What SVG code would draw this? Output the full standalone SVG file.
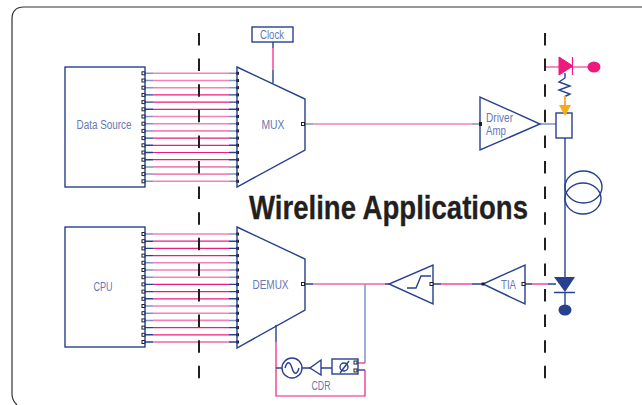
<svg xmlns="http://www.w3.org/2000/svg" width="642" height="405" viewBox="0 0 642 405">
<style>
.b{fill:none;stroke:#27408f;stroke-width:1.4}
.f{fill:#fff;stroke:#27408f;stroke-width:1.4}
.p{fill:none;stroke:#ee1b7e;stroke-width:1.2}
.lb{fill:none;stroke:#8093c4;stroke-width:1.5}
.lp{fill:none;stroke:#f582b5;stroke-width:1.6}
.t{font-family:"Liberation Sans",sans-serif;font-size:12px;fill:#6478b4;text-anchor:middle}
.d{fill:none;stroke:#231f20;stroke-width:2;stroke-dasharray:12.5 13.1}
</style>
<defs>
<g id="bd">
<path class="b" d="M143 0H153M229 0H238"/>
<path class="p" d="M153 0H229"/>
<rect x="142" y="-1.500" width="3" height="3" fill="#fff" stroke="#231f20" stroke-width="1"/>
<rect x="236" y="-1.500" width="3" height="3" fill="#231f20"/>
</g>
<g id="bl">
<path class="lb" d="M143 0H153M229 0H238"/>
<path class="lp" d="M153 0H229"/>
<rect x="142" y="-1.500" width="3" height="3" fill="#fff" stroke="#231f20" stroke-width="1"/>
<rect x="236" y="-1.500" width="3" height="3" fill="#231f20"/>
</g>
</defs>
<path id="frame" d="M642 7H24Q12 7 12 19V394Q12 400 17 405" fill="none" stroke="#333" stroke-width="1.200"/>
<g id="connectors">
<use href="#bl" y="73.300"/><use href="#bl" y="80.500"/><use href="#bl" y="87.700"/><use href="#bd" y="94.900"/><use href="#bd" y="102.100"/><use href="#bd" y="109.300"/><use href="#bl" y="116.500"/><use href="#bl" y="123.700"/><use href="#bl" y="130.900"/><use href="#bd" y="138.100"/><use href="#bd" y="145.300"/><use href="#bd" y="152.500"/><use href="#bd" y="159.700"/><use href="#bl" y="166.900"/><use href="#bl" y="174.100"/><use href="#bl" y="181.300"/>
<use href="#bl" y="234"/><use href="#bd" y="241.200"/><use href="#bd" y="248.400"/><use href="#bd" y="255.600"/><use href="#bl" y="262.800"/><use href="#bl" y="270"/><use href="#bl" y="277.200"/><use href="#bd" y="284.400"/><use href="#bd" y="291.600"/><use href="#bd" y="298.800"/><use href="#bl" y="306"/><use href="#bl" y="313.200"/><use href="#bl" y="320.400"/><use href="#bd" y="327.600"/><use href="#bd" y="334.800"/><use href="#bd" y="342"/>
<path class="d" d="M199 33V379"/>
<path class="d" d="M545 33V379"/>
<path class="b" d="M273 42V48M273 70V83"/><path class="p" d="M273 48V70" stroke-width="1.600"/>
<path class="lb" d="M303 124H313M472 124H480"/><path class="lp" d="M313 124H472"/>
<path class="lb" d="M540 124H556"/>
<path class="b" d="M565 138V277"/>
<path class="b" d="M303 284H313M385 284H389"/><path class="p" d="M313 284H385"/>
<path class="b" d="M433 284H441M472 284H483"/><path class="p" d="M441 284H472"/>
<path class="b" d="M525 284H532M548 284H556"/><path class="p" d="M532 284H548"/>
<path class="lb" d="M365 284V363"/>
<path class="p" d="M358 363H365" stroke-width="1.600"/>
<path class="b" d="M358 370H365"/>
<path class="p" d="M365 370V396H276V342" stroke-width="1.600"/>
<path class="b" d="M276 325V342"/>
<path class="b" d="M276 368H282M302 368H310M321 368H332"/>
</g>
<g id="data-source"><rect class="b" x="65" y="67" width="80" height="120"/><text class="t" x="104" y="129" textLength="55" lengthAdjust="spacingAndGlyphs">Data Source</text></g>
<g id="cpu"><rect class="b" x="65" y="227" width="80" height="120"/><text class="t" x="103" y="291" textLength="19" lengthAdjust="spacingAndGlyphs">CPU</text></g>
<g id="clock"><rect class="b" x="252" y="27" width="41" height="15"/><text class="t" x="272" y="39" textLength="24" lengthAdjust="spacingAndGlyphs">Clock</text></g>
<g id="mux"><path class="b" d="M237 67L305 99V150L237 187Z"/><rect x="301.500" y="122.500" width="3" height="3" fill="#fff" stroke="#231f20"/><text class="t" x="273" y="129" textLength="23" lengthAdjust="spacingAndGlyphs">MUX</text></g>
<g id="demux"><path class="b" d="M237 227L305 259V310L237 348Z"/><rect x="301.500" y="282.500" width="3" height="3" fill="#fff" stroke="#231f20"/><text class="t" x="270.500" y="289" textLength="36" lengthAdjust="spacingAndGlyphs">DEMUX</text></g>
<g id="driver-amp"><path class="f" d="M480 97V150L540 124Z"/><rect x="479" y="122" width="3" height="4" fill="#231f20"/><text class="t" x="486" y="122" style="text-anchor:start" textLength="27" lengthAdjust="spacingAndGlyphs">Driver</text><text class="t" x="486" y="135" style="text-anchor:start" textLength="20" lengthAdjust="spacingAndGlyphs">Amp</text></g>
<g id="modulator"><rect class="f" x="556" y="113" width="16" height="25"/></g>
<g id="laser">
<path class="p" d="M546 67H590" stroke-width="2"/>
<path d="M559 57L573 66L559 75Z" fill="#ee1b7e" stroke="#ee1b7e"/>
<path class="p" d="M572.500 57V75" stroke-width="1.600"/>
<ellipse cx="594" cy="67" rx="6.500" ry="5.500" fill="#ee1b7e"/>
<path class="b" d="M565 73V78L559 82L570 86L559 90L570 94L564 97" stroke-width="1.600"/>
<path d="M565 96V110" fill="none" stroke="#fbb03b" stroke-width="2"/>
<path d="M559 105H571L565 116Z" fill="#fbaa1c"/>
</g>
<g id="fiber"><ellipse class="b" cx="583.500" cy="187" rx="18.500" ry="16"/><ellipse class="b" cx="583" cy="198.500" rx="18" ry="15.500"/></g>
<g id="photodiode">
<path d="M554 277H575L565 292Z" fill="#27408f"/>
<path class="b" d="M554 292.500H575M565 292V305"/>
<ellipse cx="565" cy="310" rx="6.500" ry="5.500" fill="#27408f"/>
</g>
<g id="tia"><path class="f" d="M525 265V304L483 284Z"/><rect x="481.500" y="282.500" width="3" height="3" fill="#231f20"/><rect x="522" y="282.500" width="3" height="3" fill="#fff" stroke="#231f20"/><text class="t" x="508.500" y="289" textLength="15" lengthAdjust="spacingAndGlyphs">TIA</text></g>
<g id="limiter"><path class="f" d="M433 265V304L389 284Z"/><path class="b" d="M407 288H416L421 276H431" stroke-width="2"/><rect x="430" y="282.500" width="3" height="3" fill="#fff" stroke="#231f20"/></g>
<g id="cdr">
<circle class="f" cx="292" cy="368" r="10"/>
<path class="b" d="M285 368C287 361 290 361 292 368S297 375 299 368"/>
<path class="f" d="M321 360V375L310 368Z"/>
<rect class="f" x="332" y="359" width="26" height="15"/>
<ellipse class="b" cx="344" cy="367" rx="4" ry="4"/>
<path class="b" d="M340 373L349 361"/>
<rect x="354" y="361" width="3" height="3" fill="#fff" stroke="#231f20"/>
<rect x="354" y="369" width="3" height="3" fill="#fff" stroke="#231f20"/>
<text class="t" x="321" y="390" textLength="19" lengthAdjust="spacingAndGlyphs">CDR</text>
</g>
<text id="title" x="249" y="219" font-family="'Liberation Sans',sans-serif" font-weight="700" font-size="33" fill="#231f20" stroke="#231f20" stroke-width="0.300" textLength="279" lengthAdjust="spacingAndGlyphs">Wireline Applications</text>
</svg>
